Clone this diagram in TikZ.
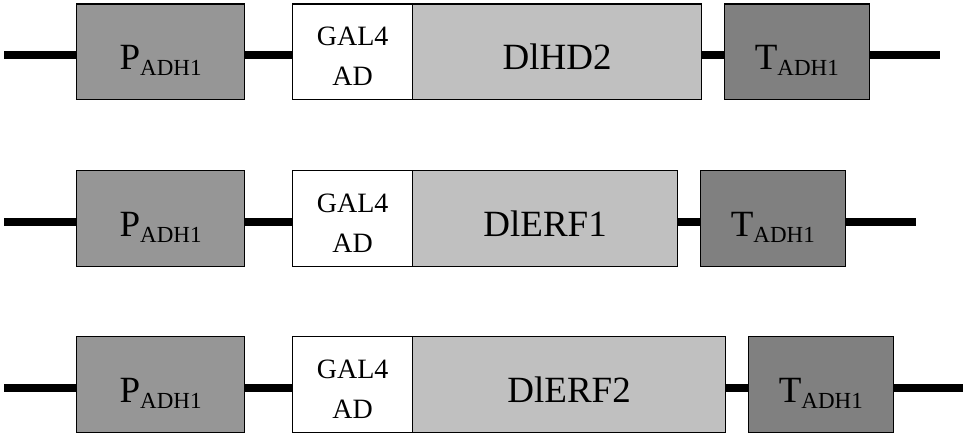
\documentclass[tikz,border=0pt]{standalone}
\usepackage{fontspec}
\setmainfont{Liberation Serif}
\definecolor{promoterfill}{RGB}{150,150,150}
\definecolor{genefill}{RGB}{192,192,192}
\definecolor{termfill}{RGB}{128,128,128}
% lowered, smaller subscript text (e.g. ADH1)
\newcommand{\lowsub}[1]{\raisebox{-6pt}{\fontsize{23}{25}\selectfont #1}}
\begin{document}
\begin{tikzpicture}[x=1pt,y=-1pt,
  part/.style={draw=black, line width=1.2pt, rectangle, inner sep=0pt,
               minimum height=95.5pt, anchor=north west},
  backbone/.style={line width=8pt, black, line cap=butt},
  mainlabel/.style={anchor=base, inner sep=0pt, font=\fontsize{37}{40}\selectfont},
  smalllabel/.style={anchor=base, inner sep=0pt, font=\fontsize{28}{30}\selectfont}]
\useasboundingbox (0,0) rectangle (963,433);

% one expression cassette per row: promoter, GAL4 AD, gene, terminator
\foreach \n/\ty/\gene/\gend/\tstart/\xend in
  {1/3.5/DlHD2/701/724/940,
   2/170/DlERF1/677/700/916,
   3/336/DlERF2/725/748/963}{
  \coordinate (s\n) at (4,\ty+52);
  \coordinate (e\n) at (\xend,\ty+52);

  \node[part, fill=promoterfill, minimum width=168pt] (p\n) at (76,\ty) {};
  \node[part, fill=white, minimum width=120pt] (g\n) at (292,\ty) {};
  \node[part, fill=genefill, minimum width={(\gend-412)*1pt}] (d\n) at (412,\ty) {};
  \node[part, fill=termfill, minimum width=144.5pt] (t\n) at (\tstart,\ty) {};

  \node[mainlabel] (pl\n) at ([yshift=-66.5pt]p\n.north) {P\lowsub{ADH1}};
  \node[smalllabel] (ga\n) at ([yshift=-42pt]g\n.north) {GAL4};
  \node[smalllabel] (ad\n) at ([yshift=-82pt]g\n.north) {AD};
  \node[mainlabel] (dl\n) at ([yshift=-66.5pt]d\n.north) {\gene};
  \node[mainlabel] (tl\n) at ([yshift=-66.5pt]t\n.north) {T\lowsub{ADH1}};

  \draw[backbone] (s\n) -- (p\n.west |- s\n);
  \draw[backbone] (p\n.east |- s\n) -- (g\n.west |- s\n);
  \draw[backbone] (d\n.east |- s\n) -- (t\n.west |- s\n);
  \draw[backbone] (t\n.east |- s\n) -- (e\n);
}
\end{tikzpicture}
\end{document}
